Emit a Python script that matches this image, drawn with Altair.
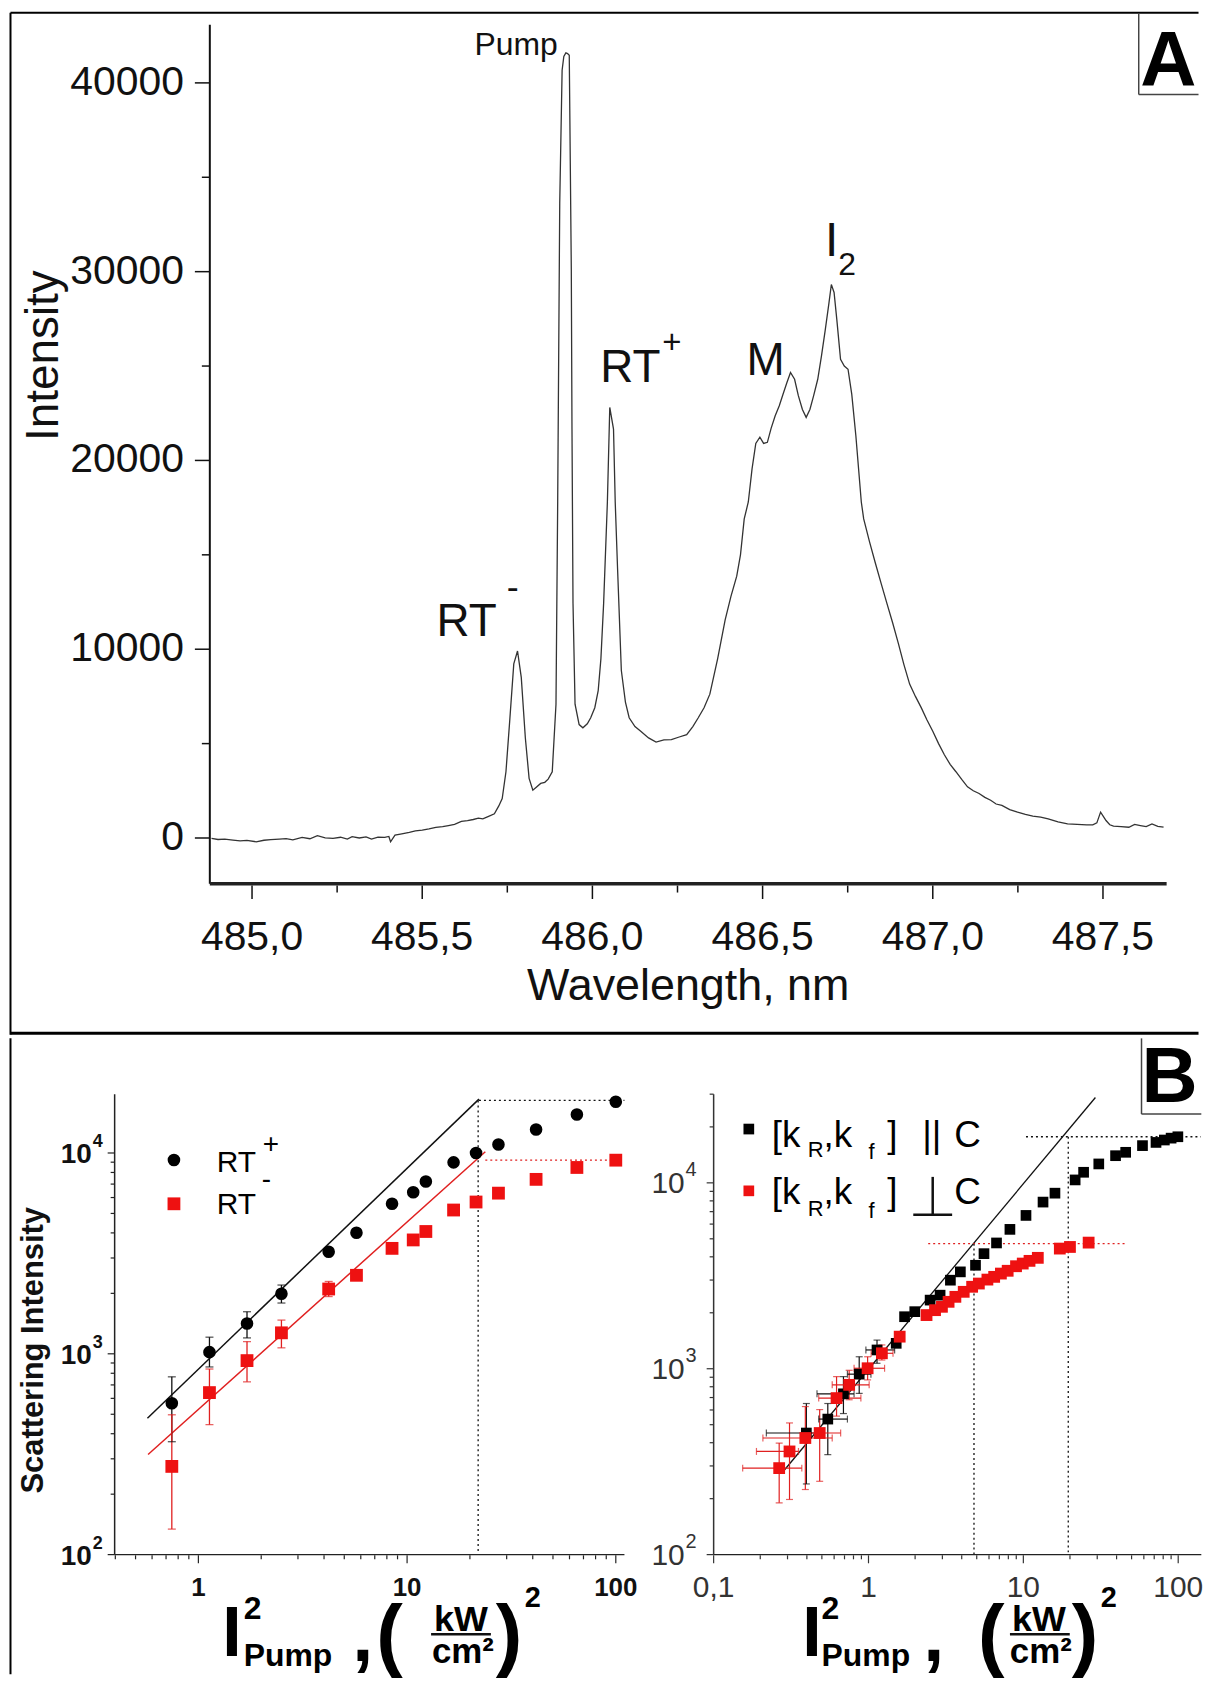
import altair as alt
import pandas as pd

FONT = "Liberation Sans"

# ======================= DATA =======================
# Panel A: emission spectrum
spec_wl = [484.881, 484.900, 484.920, 484.944, 484.965, 484.985, 485.012, 485.035, 485.055, 485.080,
           485.100, 485.120, 485.147, 485.170, 485.192, 485.215, 485.238, 485.260, 485.280, 485.294,
           485.315, 485.335, 485.351, 485.370, 485.390, 485.402, 485.407, 485.420, 485.440, 485.462,
           485.480, 485.500, 485.520, 485.540, 485.560, 485.577, 485.595, 485.615, 485.633, 485.650,
           485.665, 485.678, 485.695, 485.712, 485.725, 485.735, 485.746, 485.757, 485.769, 485.780,
           485.791, 485.803, 485.814, 485.825, 485.836, 485.848, 485.860, 485.870, 485.882, 485.893,
           485.898, 485.904, 485.911, 485.916, 485.922, 485.927, 485.932, 485.938, 485.940, 485.943,
           485.949, 485.961, 485.972, 485.985, 485.995, 486.007, 486.017, 486.025, 486.033, 486.044,
           486.051, 486.062, 486.067, 486.074, 486.085, 486.097, 486.108, 486.125, 486.142, 486.165,
           486.187, 486.210, 486.232, 486.255, 486.277, 486.295, 486.311, 486.328, 486.345, 486.368,
           486.390, 486.407, 486.424, 486.435, 486.446, 486.458, 486.469, 486.480, 486.492, 486.503,
           486.514, 486.525, 486.537, 486.549, 486.560, 486.571, 486.582, 486.594, 486.605, 486.617,
           486.628, 486.639, 486.650, 486.662, 486.673, 486.684, 486.695, 486.702, 486.710, 486.718,
           486.729, 486.740, 486.751, 486.762, 486.774, 486.790, 486.797, 486.814, 486.831, 486.848,
           486.865, 486.882, 486.899, 486.915, 486.932, 486.949, 486.966, 486.983, 487.000, 487.017,
           487.034, 487.051, 487.068, 487.085, 487.102, 487.119, 487.136, 487.153, 487.170, 487.186,
           487.203, 487.226, 487.249, 487.272, 487.294, 487.317, 487.339, 487.368, 487.396, 487.424,
           487.452, 487.470, 487.482, 487.493, 487.501, 487.509, 487.520, 487.531, 487.553, 487.576,
           487.593, 487.610, 487.627, 487.644, 487.661, 487.678]
spec_int = [-20, -80, -60, -110, -150, -130, -200, -120, -90, -60,
            -30, -100, 30, -40, 120, 10, -20, 40, -60, 70,
            0, 60, -60, 40, 30, 80, -200, 150, 220, 300,
            380, 420, 480, 560, 600, 660, 720, 880, 925, 980,
            1050, 1010, 1150, 1280, 1700, 2085, 3510, 6190, 9220, 9905,
            8510, 5300, 3160, 2530, 2700, 2890, 2950, 3120, 3510, 7085,
            17800, 33630, 40670, 41400, 41590, 41550, 41460, 30110, 21660, 12440,
            7085, 6010, 5835, 6050, 6370, 6900, 7800, 9500, 12440, 17800,
            22810, 21660, 17800, 14220, 8870, 7200, 6370, 5900, 5655, 5300,
            5085, 5200, 5210, 5350, 5475, 5900, 6370, 6900, 7620, 9500,
            11550, 12800, 13870, 15000, 16900, 17800, 19550, 20900, 21230, 20900,
            20960, 21700, 22370, 22900, 23510, 24100, 24660, 24300, 23430, 22700,
            22280, 22700, 23430, 24300, 25540, 26900, 28350, 29320, 28900, 27470,
            25360, 25000, 24830, 23500, 21310, 17800, 16900, 15700, 14580, 13500,
            12440, 11400, 10300, 9200, 8150, 7500, 6905, 6250, 5655, 5000,
            4410, 3900, 3510, 3100, 2710, 2500, 2355, 2150, 2000, 1800,
            1730, 1500, 1370, 1250, 1160, 1100, 1010, 850, 745, 720,
            690, 700, 800, 1370, 1150, 925, 700, 625, 600, 570,
            720, 660, 600, 745, 620, 570]

peak_text = ["RT", "+", "M", "I", "2", "RT", "-"]
peak_wl = [486.023, 486.205, 486.453, 486.683, 486.722, 485.542, 485.748]
peak_int = [24130, 25680, 24500, 30840, 29830, 10720, 12670]
pump_text = ["Pump"]
pump_wl = [485.898]
pump_int = [41500]

# axis tick values
a_x_major = [485.0, 485.5, 486.0, 486.5, 487.0, 487.5]
a_x_minor = [485.25, 485.75, 486.25, 486.75, 487.25]
a_y_major = [0, 10000, 20000, 30000, 40000]
a_y_minor = [5000, 15000, 25000, 35000]

# Panel B left: RT+ / RT- vs pump intensity squared
bl_x = [0.746, 1.13, 1.71, 2.50, 4.21, 5.72, 8.47, 10.7, 12.3, 16.7, 21.4, 27.4, 41.5, 65.1, 100]
bl_rt_plus = [567, 1019, 1416, 1991, 3222, 4010, 5590, 6380, 7210, 8980, 10000, 11030, 13100, 15550, 17990]
bl_rt_minus = [275, 641, 925, 1272, 2102, 2460, 3350, 3690, 4065, 5200, 5700, 6310, 7390, 8470, 9210]
bl_plus_err_lo = [365, 860, 1200, 1790]
bl_plus_err_hi = [768, 1210, 1620, 2200]
bl_minus_err_lo = [134, 444, 725, 1071, 1928]
bl_minus_err_hi = [497, 840, 1150, 1472, 2292]
bl_fit_black_x = [0.570, 22.1]
bl_fit_black_y = [478, 18540]
bl_fit_red_x = [0.574, 23.7]
bl_fit_red_y = [315, 10140]
bl_guide_x1 = [22.1, 21.9, 23.7]
bl_guide_x2 = [110, 21.9, 110]
bl_guide_y1 = [18270, 18270, 9210]
bl_guide_y2 = [18270, 100, 9210]
bl_guide_kind = ["black", "blue", "red"]

# Panel B right: two geometries
br_par_x = [0.397, 0.546, 0.689, 0.871, 1.135, 1.51, 1.71, 1.99, 2.50, 2.90, 3.38, 3.92, 4.91, 5.57,
            6.71, 8.19, 10.4, 13.4, 16.0, 21.6, 24.5, 30.7, 39.4, 45.8, 58.8, 71.9, 81.4, 90, 99.5]
br_par_y = [451, 536, 733, 935, 1262, 1370, 1905, 2028, 2340, 2488, 2995, 3320, 3603, 4160,
            4750, 5620, 6680, 7880, 8800, 10370, 11400, 12640, 14000, 14600, 15860, 16500, 17000, 17400, 17700]
br_perp_x = [0.265, 0.309, 0.391, 0.484, 0.622, 0.750, 0.987, 1.22, 1.59, 2.37, 2.69, 2.98, 3.29, 3.64,
             4.12, 4.67, 5.16, 5.86, 6.48, 7.16, 7.92, 8.97, 9.91, 10.96, 12.4, 17.2, 20.0, 26.4]
br_perp_y = [292, 359, 424, 451, 695, 819, 1006, 1211, 1488, 1944, 2066, 2154, 2291, 2437,
             2593, 2760, 2873, 3017, 3121, 3251, 3365, 3560, 3680, 3805, 3950, 4430, 4520, 4770]
br_perp_xlo = [0.154, 0.189, 0.208, 0.381, 0.477, 0.583, 0.807, 1.04]
br_perp_xhi = [0.371, 0.353, 0.583, 0.661, 0.893, 1.01, 1.27, 1.44]
br_perp_ylo = [190, 198, 224, 248, 556, 681, 871, 1114]
br_perp_yhi = [398, 511, 626, 603, 907, 981, 1160, 1343]
br_par_xlo = [0.219, 0.477, 0.465, 0.731, 0.962]
br_par_xhi = [0.489, 0.731, 0.807, 1.037, 1.475]
br_par_ylo = [240, 345, 574, 737, 1070]
br_par_yhi = [650, 650, 907, 1160, 1426]
br_fit_x = [0.282, 29.2]
br_fit_y = [281, 28800]
br_guide_x1 = [10.4, 19.5, 2.43, 4.8]
br_guide_x2 = [140, 19.5, 46.9, 4.8]
br_guide_y1 = [17700, 17700, 4710, 4710]
br_guide_y2 = [17700, 100, 4710, 100]
br_guide_kind = ["black", "blue", "red", "blue"]

# ======================= HELPERS =======================
RED = "#ee1111"
GUIDE_COLORS = alt.Scale(domain=["black", "blue", "red"], range=["#333333", "#2a3fd0", "#e02828"])
RIGHT = 1201        # right-most page x used by the frame (keeps the page from overflowing)
one = pd.DataFrame({"k": [0]})


def hrule(x1, x2, y, color="black", w=2.0):
    return alt.Chart(one).mark_rule(color=color, strokeWidth=w).encode(
        x=alt.value(x1), x2=alt.value(x2), y=alt.value(y))


def vrule(x, y1, y2, color="black", w=2.0):
    return alt.Chart(one).mark_rule(color=color, strokeWidth=w).encode(
        x=alt.value(x), y=alt.value(y1), y2=alt.value(y2))


def txt(s, x, y, size, weight="normal", align="left", font=FONT, color="black", angle=0,
        baseline="alphabetic"):
    return alt.Chart(one).mark_text(text=s, align=align, baseline=baseline, fontSize=size,
                                    fontWeight=weight, font=font, color=color, angle=angle).encode(
        x=alt.value(x), y=alt.value(y))


def log_ticks(lo_exp, hi_exp, lo=None, hi=None):
    out = []
    for e in range(lo_exp, hi_exp + 1):
        for m in range(2, 10):
            v = round(m * 10.0 ** e, 6)
            if (lo is None or v >= lo) and (hi is None or v <= hi):
                out.append(v)
    return out


def ticks_x(values, scale, y0, length, color, w=1.2):
    df = pd.DataFrame({"v": values})
    return alt.Chart(df).mark_rule(color=color, strokeWidth=w).encode(
        x=alt.X("v:Q", scale=scale, axis=None), y=alt.value(y0), y2=alt.value(y0 + length))


def ticks_y(values, scale, length, color, w=1.2, x0=0):
    df = pd.DataFrame({"v": values})
    return alt.Chart(df).mark_rule(color=color, strokeWidth=w).encode(
        y=alt.Y("v:Q", scale=scale, axis=None), x=alt.value(x0 - length), x2=alt.value(x0))


def labels_x(values, labels, scale, y, size, color, weight="normal"):
    df = pd.DataFrame({"v": values, "t": labels})
    return alt.Chart(df).mark_text(baseline="top", align="center", fontSize=size, fontWeight=weight,
                                   font=FONT, color=color).encode(
        x=alt.X("v:Q", scale=scale, axis=None), y=alt.value(y), text="t:N")


def labels_y(values, labels, scale, x, size, color, weight="normal", dy=0):
    df = pd.DataFrame({"v": values, "t": labels})
    return alt.Chart(df).mark_text(baseline="middle", align="right", fontSize=size, fontWeight=weight,
                                   font=FONT, color=color, dy=dy).encode(
        y=alt.Y("v:Q", scale=scale, axis=None), x=alt.value(x), text="t:N")


# ======================= PANEL A =======================
# The view origin of panel A is aligned with the one of panel B-left (page x 113.5);
# the data area of A starts A_OFF pixels to the right of it.
AX, AY = 113.5, 21
A_OFF = 209 - AX
AW, AH = 960, 862

sxA = alt.Scale(domain=[484.876, 487.687], range=[A_OFF, A_OFF + AW], nice=False, zero=False)
syA = alt.Scale(domain=[-2430, 43080], nice=False, zero=False)

spec_df = pd.DataFrame({"wl": spec_wl, "inten": spec_int})
spectrum = alt.Chart(spec_df).mark_line(color="#333", strokeWidth=1.3).encode(
    x=alt.X("wl:Q", scale=sxA, axis=None), y=alt.Y("inten:Q", scale=syA, axis=None))

peak_df = pd.DataFrame({"label": peak_text, "wl": peak_wl, "inten": peak_int})
peak_df["fs"] = [46, 33, 46, 48, 32, 46, 36]
peaks = alt.Chart(peak_df).mark_text(align="left", baseline="alphabetic", font=FONT, color="#111").encode(
    x=alt.X("wl:Q", scale=sxA, axis=None), y=alt.Y("inten:Q", scale=syA, axis=None),
    text="label:N", size=alt.Size("fs:Q", scale=None))
pump_df = pd.DataFrame({"label": pump_text, "wl": pump_wl, "inten": pump_int})
pump = alt.Chart(pump_df).mark_text(align="right", baseline="alphabetic", font=FONT, fontSize=32,
                                    color="#111").encode(
    x=alt.X("wl:Q", scale=sxA, axis=None), y=alt.Y("inten:Q", scale=syA, axis=None), text="label:N")

a_axes = [
    vrule(A_OFF, 0, AH, color="#111", w=2),                         # y domain
    hrule(A_OFF, A_OFF + AW, AH, color="#222", w=3.5),              # x domain
    ticks_x(a_x_major, sxA, AH + 1.7, 13.5, "#111", 1.5),
    ticks_x(a_x_minor, sxA, AH + 1.7, 7, "#111", 1.5),
    ticks_y(a_y_major, syA, 15, "#111", 1.5, x0=A_OFF),
    ticks_y(a_y_minor, syA, 8, "#111", 1.5, x0=A_OFF),
    labels_x(a_x_major, [f"{v:.1f}".replace(".", ",") for v in a_x_major], sxA, AH + 34, 41, "#111"),
    labels_y(a_y_major, [str(v) for v in a_y_major], syA, A_OFF - 26, 41, "#111"),
    txt("Intensity", 43 - AX, 353 - AY, 46, angle=270, align="center", baseline="middle", color="#111"),
    txt("Wavelength, nm", A_OFF + AW / 2, AH + 117, 45, align="center", color="#111"),
]

a_decor = [
    hrule(9 - AX, RIGHT - AX, 9 - AY, w=2),                 # top frame
    vrule(9 - AX, 9 - AY, 1034.5 - AY, w=2),                # left frame
    hrule(9 - AX, RIGHT - AX, 1033 - AY, w=3),              # divider
    vrule(1141 - AX, 10 - AY, 91 - AY, color="#444", w=1.5),
    hrule(1141 - AX, RIGHT - AX, 91 - AY, color="#444", w=1.5),
    txt("A", 1142.5 - AX, 82 - AY, 78, weight="bold"),
]
panel_a = alt.layer(spectrum, peaks, pump, *a_axes, *a_decor).properties(width=A_OFF + AW, height=AH)

# ======================= PANEL B LEFT =======================
BLX, BLY = 113.5, 1090
BLW, BLH = 511.5, 462
sxBL = alt.Scale(type="log", domain=[0.397, 110], nice=False)
syBL = alt.Scale(type="log", domain=[100, 19630], nice=False)
dec_y = [100, 1000, 10000]


def bx(field, scale=sxBL):
    return alt.X(field, scale=scale, axis=None)


def by(field, scale=syBL):
    return alt.Y(field, scale=scale, axis=None)


bl_fit_df = pd.DataFrame({"x": bl_fit_black_x + bl_fit_red_x, "y": bl_fit_black_y + bl_fit_red_y,
                          "s": ["black", "black", "red", "red"]})
bl_fits = alt.Chart(bl_fit_df).mark_line(strokeWidth=1.5).encode(
    x=bx("x:Q"), y=by("y:Q"), detail="s:N",
    color=alt.Color("s:N", scale=alt.Scale(domain=["black", "red"], range=["#111111", "#e02020"]), legend=None))
bl_guide_df = pd.DataFrame({"x": bl_guide_x1, "x2": bl_guide_x2, "y": bl_guide_y1, "y2": bl_guide_y2,
                            "kind": bl_guide_kind})
bl_guides = alt.Chart(bl_guide_df).mark_rule(strokeWidth=1.3, strokeDash=[2, 3]).encode(
    x=bx("x:Q"), x2="x2:Q", y=by("y:Q"), y2="y2:Q",
    color=alt.Color("kind:N", scale=GUIDE_COLORS, legend=None))

bl_err_df = pd.DataFrame({
    "x": bl_x[:4] + bl_x[:5],
    "lo": bl_plus_err_lo + bl_minus_err_lo,
    "hi": bl_plus_err_hi + bl_minus_err_hi,
    "s": ["black"] * 4 + ["red"] * 5})
err_colors = alt.Scale(domain=["black", "red"], range=["#444444", "#d8707e"])
bl_err = alt.Chart(bl_err_df).mark_rule(strokeWidth=1.3).encode(
    x=bx("x:Q"), y=by("lo:Q"), y2="hi:Q", color=alt.Color("s:N", scale=err_colors, legend=None))
bl_cap_lo = alt.Chart(bl_err_df).mark_tick(orient="horizontal", size=8, thickness=1.3).encode(
    x=bx("x:Q"), y=by("lo:Q"), color=alt.Color("s:N", scale=err_colors, legend=None))
bl_cap_hi = alt.Chart(bl_err_df).mark_tick(orient="horizontal", size=8, thickness=1.3).encode(
    x=bx("x:Q"), y=by("hi:Q"), color=alt.Color("s:N", scale=err_colors, legend=None))

bl_pts_df = pd.DataFrame({"x": bl_x, "plus": bl_rt_plus, "minus": bl_rt_minus})
bl_plus = alt.Chart(bl_pts_df).mark_point(shape="circle", filled=True, size=160, color="black", opacity=1).encode(
    x=bx("x:Q"), y=by("plus:Q"))
bl_minus = alt.Chart(bl_pts_df).mark_square(size=165, color=RED, opacity=1).encode(
    x=bx("x:Q"), y=by("minus:Q"))

bl_axes = [
    vrule(0, 0, BLH, color="#222", w=1.5),
    hrule(0, BLW, BLH, color="#222", w=1.5),
    ticks_x([1, 10, 100], sxBL, BLH + 0.7, 8, "#222"),
    ticks_x(log_ticks(-1, 1, lo=0.4), sxBL, BLH + 0.7, 4, "#222"),
    ticks_y(dec_y, syBL, 7, "#222"),
    ticks_y(log_ticks(2, 3), syBL, 4, "#222"),
    labels_x([1, 10, 100], ["1", "10", "100"], sxBL, BLH + 21, 26, "#111", weight="bold"),
    labels_y(dec_y, ["10"] * 3, syBL, -23, 28, "#111", weight="bold", dy=2),
    labels_y(dec_y, ["2", "3", "4"], syBL, -12, 18, "#111", weight="bold", dy=-11),
    txt("Scattering Intensity", 33 - BLX, 1347 - BLY, 31, weight="bold", angle=270, align="center",
        baseline="middle", color="#111"),
]

bl_decor = [
    vrule(9 - BLX, -56, 1672 - BLY, w=2),                     # left frame
    vrule(645 - BLX, 0, 1, color="#ffffff", w=0.5),            # right bound marker
    alt.Chart(one).mark_point(shape="circle", filled=True, size=160, color="black", opacity=1).encode(
        x=alt.value(173 - BLX), y=alt.value(1156 - BLY)),
    alt.Chart(one).mark_square(size=165, color=RED, opacity=1).encode(
        x=alt.value(173 - BLX), y=alt.value(1200 - BLY)),
    txt("RT", 216 - BLX, 1168 - BLY, 30),
    txt("+", 262 - BLX, 1149 - BLY, 28),
    txt("RT", 216 - BLX, 1210 - BLY, 30),
    txt("-", 261 - BLX, 1184 - BLY, 28),
]

TS = -21   # vertical shift of the composed axis titles (keeps the page from overflowing)


def title_pieces(org, I_x, sup_x, pump_x, comma_x, lp_x, frac_c, bar_x1, bar_x2, rp_x, sq_x):
    ox, oy = org
    oy = oy - TS
    return [
        txt("I", I_x - ox, 1675 - oy, 70, weight="bold"),
        txt("2", sup_x - ox, 1638 - oy, 32, weight="bold"),
        txt("Pump", pump_x - ox, 1685 - oy, 32, weight="bold"),
        txt(",", comma_x - ox, 1680 - oy, 76, weight="bold"),
        txt("(", lp_x - ox, 1680 - oy, 80, weight="bold"),
        txt("kW", frac_c - ox, 1650 - oy, 36, weight="bold", align="center"),
        hrule(bar_x1 - ox, bar_x2 - ox, 1653 - oy, color="#111", w=2.5),
        txt("cm\u00b2", frac_c + 2 - ox, 1682 - oy, 35, weight="bold", align="center"),
        txt(")", rp_x - ox, 1680 - oy, 80, weight="bold"),
        txt("2", sq_x - ox, 1626 - oy, 29, weight="bold"),
    ]


bl_title = title_pieces((BLX, BLY), 221.5, 243, 243, 352, 376, 461, 431, 491, 496, 525)

panel_bl = alt.layer(bl_fits, bl_guides, bl_err, bl_cap_lo, bl_cap_hi, bl_plus, bl_minus,
                     *bl_axes, *bl_decor, *bl_title).properties(width=BLW, height=BLH)

# ======================= PANEL B RIGHT =======================
BRX, BRY = 711.7, 1090
BRW, BRH = RIGHT - BRX, 462
sxBR = alt.Scale(type="log", domain=[0.1, 141], nice=False)
syBR = alt.Scale(type="log", domain=[100, 30000], nice=False)

br_fit_df = pd.DataFrame({"x": br_fit_x, "y": br_fit_y})
br_fit = alt.Chart(br_fit_df).mark_line(color="#111", strokeWidth=1.3).encode(
    x=bx("x:Q", scale=sxBR), y=by("y:Q", scale=syBR))
br_guide_df = pd.DataFrame({"x": br_guide_x1, "x2": br_guide_x2, "y": br_guide_y1, "y2": br_guide_y2,
                            "kind": br_guide_kind})
br_guides = alt.Chart(br_guide_df).mark_rule(strokeWidth=1.3, strokeDash=[2, 3]).encode(
    x=bx("x:Q", scale=sxBR), x2="x2:Q", y=by("y:Q", scale=syBR), y2="y2:Q",
    color=alt.Color("kind:N", scale=GUIDE_COLORS, legend=None))

br_err_df = pd.DataFrame({
    "x": br_par_x[:5] + br_perp_x[:8],
    "y": br_par_y[:5] + br_perp_y[:8],
    "xlo": br_par_xlo + br_perp_xlo, "xhi": br_par_xhi + br_perp_xhi,
    "ylo": br_par_ylo + br_perp_ylo, "yhi": br_par_yhi + br_perp_yhi,
    "s": ["black"] * 5 + ["red"] * 8})
err_colors2 = alt.Scale(domain=["black", "red"], range=["#667080", "#d8707e"])
br_err_v = alt.Chart(br_err_df).mark_rule(strokeWidth=1.2).encode(
    x=bx("x:Q", scale=sxBR), y=by("ylo:Q", scale=syBR), y2="yhi:Q",
    color=alt.Color("s:N", scale=err_colors2, legend=None))
br_err_h = alt.Chart(br_err_df).mark_rule(strokeWidth=1.2).encode(
    x=bx("xlo:Q", scale=sxBR), x2="xhi:Q", y=by("y:Q", scale=syBR),
    color=alt.Color("s:N", scale=err_colors2, legend=None))
br_cap_lo = alt.Chart(br_err_df).mark_tick(orient="horizontal", size=7, thickness=1.2).encode(
    x=bx("x:Q", scale=sxBR), y=by("ylo:Q", scale=syBR), color=alt.Color("s:N", scale=err_colors2, legend=None))
br_cap_hi = alt.Chart(br_err_df).mark_tick(orient="horizontal", size=7, thickness=1.2).encode(
    x=bx("x:Q", scale=sxBR), y=by("yhi:Q", scale=syBR), color=alt.Color("s:N", scale=err_colors2, legend=None))
br_capx_lo = alt.Chart(br_err_df).mark_tick(orient="vertical", size=7, thickness=1.2).encode(
    x=bx("xlo:Q", scale=sxBR), y=by("y:Q", scale=syBR), color=alt.Color("s:N", scale=err_colors2, legend=None))
br_capx_hi = alt.Chart(br_err_df).mark_tick(orient="vertical", size=7, thickness=1.2).encode(
    x=bx("xhi:Q", scale=sxBR), y=by("y:Q", scale=syBR), color=alt.Color("s:N", scale=err_colors2, legend=None))

br_par_df = pd.DataFrame({"x": br_par_x, "y": br_par_y})
br_perp_df = pd.DataFrame({"x": br_perp_x, "y": br_perp_y})
br_par = alt.Chart(br_par_df).mark_square(size=115, color="black", opacity=1).encode(
    x=bx("x:Q", scale=sxBR), y=by("y:Q", scale=syBR))
br_perp = alt.Chart(br_perp_df).mark_square(size=140, color=RED, opacity=1).encode(
    x=bx("x:Q", scale=sxBR), y=by("y:Q", scale=syBR))

br_axes = [
    vrule(0, 0, BRH, color="#333", w=1.5),
    hrule(0, BRW, BRH, color="#222", w=1.5),
    ticks_x([0.1, 1, 10, 100], sxBR, BRH + 0.7, 8, "#333"),
    ticks_x(log_ticks(-1, 2, hi=135), sxBR, BRH + 0.7, 4, "#333"),
    ticks_y(dec_y, syBR, 7, "#333"),
    ticks_y(log_ticks(2, 4, hi=30000), syBR, 4, "#333"),
    labels_x([0.1, 1, 10, 100], ["0,1", "1", "10", "100"], sxBR, BRH + 19, 30, "#333"),
    labels_y(dec_y, ["10"] * 3, syBR, -29, 30, "#333", dy=1),
    labels_y(dec_y, ["2", "3", "4"], syBR, -17, 20, "#333", dy=-13),
]


def legend_row(base, sub_base, marker_y, marker_color):
    return [
        alt.Chart(one).mark_square(size=115, color=marker_color, opacity=1).encode(
            x=alt.value(747 - BRX), y=alt.value(marker_y - BRY)),
        txt("[k", 770 - BRX, base - BRY, 37),
        txt("R", 806 - BRX, sub_base - BRY, 22),
        txt(",k", 822 - BRX, base - BRY, 37),
        txt("f", 867 - BRX, sub_base + 2 - BRY, 22),
        txt("]", 886 - BRX, base - BRY, 37),
        txt("C", 953 - BRX, base - BRY, 37),
    ]


br_decor = [
    vrule(645 - BRX, 0, 1, color="#ffffff", w=0.5),                # left bound marker
    vrule(1141 - BRX, -56, 1110 - BRY, color="#444", w=1.5),
    hrule(1141 - BRX, RIGHT - BRX, 1110 - BRY, color="#444", w=1.5),
    txt("B", 1141 - BRX, 1098 - BRY, 78, weight="bold"),
    *legend_row(1143, 1153, 1125, "black"),
    txt("||", 921 - BRX, 1143 - BRY, 37),
    *legend_row(1200, 1212, 1187, RED),
    vrule(931.5 - BRX, 1173 - BRY, 1211 - BRY, color="#111", w=2.5),
    hrule(912 - BRX, 951 - BRX, 1211 - BRY, color="#111", w=2.5),
]
br_title = title_pieces((BRX, BRY), 800.5, 820, 820, 922, 977, 1038, 1009, 1069, 1071, 1100)

panel_br = alt.layer(br_fit, br_guides, br_err_v, br_err_h, br_cap_lo, br_cap_hi, br_capx_lo, br_capx_hi,
                     br_par, br_perp, *br_axes, *br_decor, *br_title).properties(width=BRW, height=BRH)

# ======================= ASSEMBLY =======================
chart = alt.vconcat(
    panel_a,
    alt.hconcat(panel_bl, panel_br, spacing=0),
    spacing=0,
).properties(padding=0).configure_view(stroke="transparent").configure_concat(spacing=0)

chart.save("out.html", embed_options={"renderer": "svg", "actions": False})
